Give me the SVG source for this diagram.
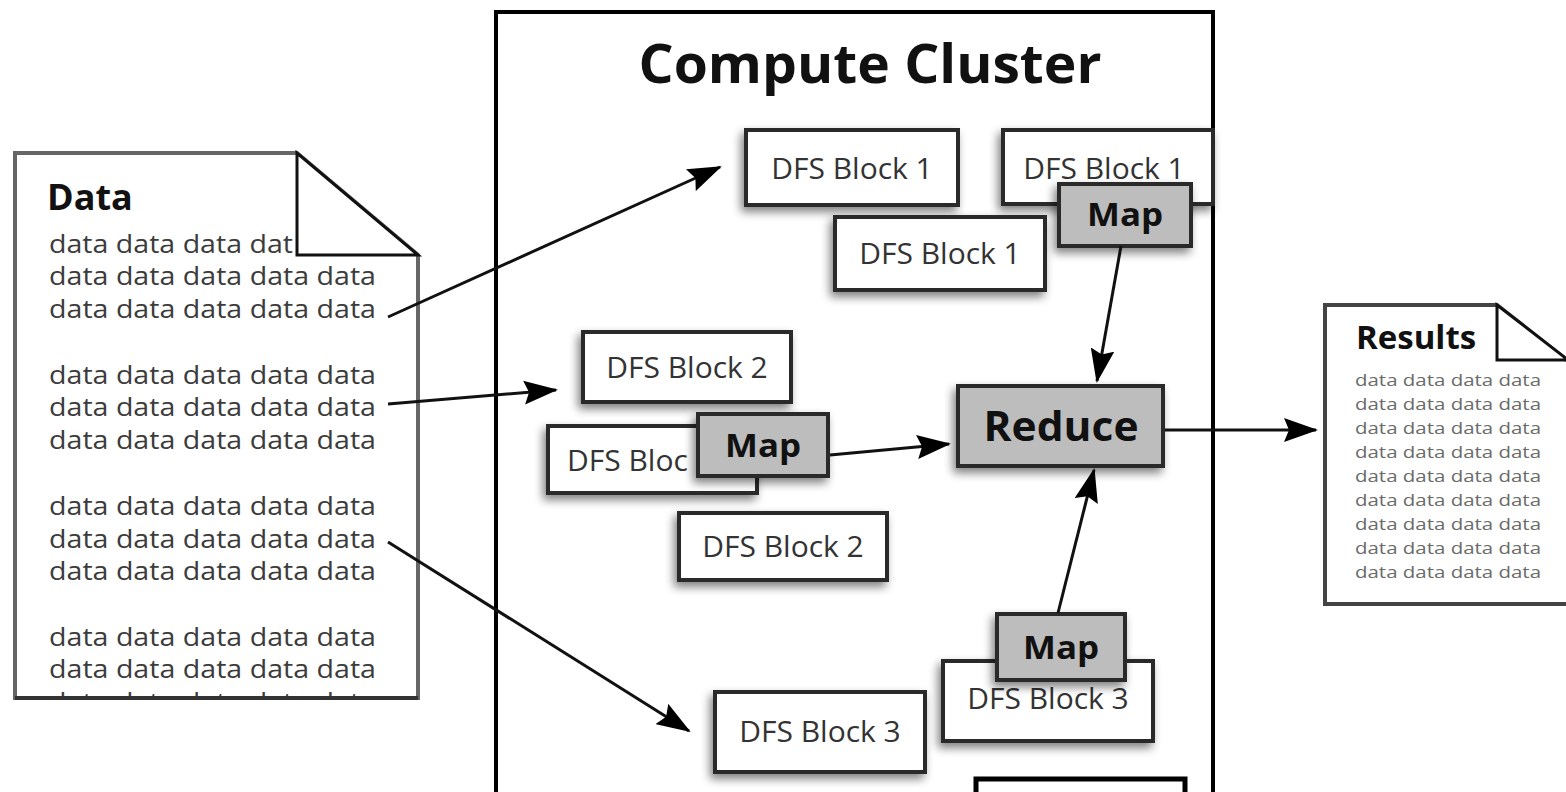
<svg xmlns="http://www.w3.org/2000/svg" width="1566" height="792" viewBox="0 0 1566 792">
<defs>
<style>
.bx{fill:#fff;stroke:#2a2a2a;stroke-width:4}
.mp{fill:#bdbdbd;stroke:#2a2a2a;stroke-width:4}
.lbl{font-family:"Open Sans","Liberation Sans",sans-serif;font-size:30px;fill:#333;text-anchor:middle}
.lbls{font-family:"Open Sans","Liberation Sans",sans-serif;font-size:30px;fill:#333;text-anchor:start}
.bold{font-family:"Open Sans","Liberation Sans",sans-serif;font-weight:bold;fill:#111}
.dt{font-family:"Open Sans","Liberation Sans",sans-serif;font-size:25px;fill:#3c3c3c}
.rt{font-family:"Open Sans","Liberation Sans",sans-serif;font-size:17px;fill:#6a6a6a}
.conn line{stroke:#111;stroke-width:3;marker-end:url(#ah)}
</style>
<marker id="ah" viewBox="0 0 34 24" refX="32" refY="12" markerWidth="34" markerHeight="24" markerUnits="userSpaceOnUse" orient="auto">
<path d="M0,0 L34,12 L0,24 L5,12 z" fill="#000"/>
</marker>
<filter id="sh" x="-25%" y="-40%" width="150%" height="190%">
<feGaussianBlur in="SourceAlpha" stdDeviation="5"/>
<feOffset dx="-3" dy="5" result="o"/>
<feComponentTransfer><feFuncA type="linear" slope="0.5"/></feComponentTransfer>
<feMerge><feMergeNode/><feMergeNode in="SourceGraphic"/></feMerge>
</filter>
<clipPath id="dclip"><rect x="17" y="155" width="399" height="541"/></clipPath>
</defs>
<rect width="1566" height="792" fill="#fff"/>

<g id="cluster">
<rect x="496" y="12" width="717" height="800" fill="#fff" stroke="#000" stroke-width="4"/>
<text class="bold" x="870" y="83" font-size="53" text-anchor="middle" textLength="463" lengthAdjust="spacingAndGlyphs">Compute Cluster</text>
</g>

<g id="data-doc">
<path d="M15,153 L297,153 L418,255 L418,698 L15,698 Z" fill="#fff" stroke="#666" stroke-width="4"/>
<text class="bold" x="47" y="210" font-size="36">Data</text>
<g clip-path="url(#dclip)">
<text class="dt" x="49" y="253" textLength="244" lengthAdjust="spacingAndGlyphs">data data data dat</text>
<text class="dt" x="49" y="285" textLength="327" lengthAdjust="spacingAndGlyphs">data data data data data</text>
<text class="dt" x="49" y="318" textLength="327" lengthAdjust="spacingAndGlyphs">data data data data data</text>
<text class="dt" x="49" y="384" textLength="327" lengthAdjust="spacingAndGlyphs">data data data data data</text>
<text class="dt" x="49" y="416" textLength="327" lengthAdjust="spacingAndGlyphs">data data data data data</text>
<text class="dt" x="49" y="449" textLength="327" lengthAdjust="spacingAndGlyphs">data data data data data</text>
<text class="dt" x="49" y="515" textLength="327" lengthAdjust="spacingAndGlyphs">data data data data data</text>
<text class="dt" x="49" y="548" textLength="327" lengthAdjust="spacingAndGlyphs">data data data data data</text>
<text class="dt" x="49" y="580" textLength="327" lengthAdjust="spacingAndGlyphs">data data data data data</text>
<text class="dt" x="49" y="646" textLength="327" lengthAdjust="spacingAndGlyphs">data data data data data</text>
<text class="dt" x="49" y="678" textLength="327" lengthAdjust="spacingAndGlyphs">data data data data data</text>
<text class="dt" x="49" y="711" textLength="327" lengthAdjust="spacingAndGlyphs">data data data data data</text>
</g>
<path d="M297,153 L297,255 L418,255 L297,153 Z" fill="#fff" stroke="#111" stroke-width="3"/>
<line x1="15" y1="698" x2="418" y2="698" stroke="#333" stroke-width="4"/>
</g>

<g id="results-doc">
<path d="M1325,305 L1497,305 L1568,361 L1568,604 L1325,604 Z" fill="#fff" stroke="#444" stroke-width="4"/>
<text class="bold" x="1356" y="349" font-size="33">Results</text>
<text class="rt" x="1355" y="386" textLength="186" lengthAdjust="spacingAndGlyphs">data data data data</text>
<text class="rt" x="1355" y="410" textLength="186" lengthAdjust="spacingAndGlyphs">data data data data</text>
<text class="rt" x="1355" y="434" textLength="186" lengthAdjust="spacingAndGlyphs">data data data data</text>
<text class="rt" x="1355" y="458" textLength="186" lengthAdjust="spacingAndGlyphs">data data data data</text>
<text class="rt" x="1355" y="482" textLength="186" lengthAdjust="spacingAndGlyphs">data data data data</text>
<text class="rt" x="1355" y="506" textLength="186" lengthAdjust="spacingAndGlyphs">data data data data</text>
<text class="rt" x="1355" y="530" textLength="186" lengthAdjust="spacingAndGlyphs">data data data data</text>
<text class="rt" x="1355" y="554" textLength="186" lengthAdjust="spacingAndGlyphs">data data data data</text>
<text class="rt" x="1355" y="578" textLength="186" lengthAdjust="spacingAndGlyphs">data data data data</text>
<path d="M1497,305 L1497,360 L1568,360 Z" fill="#fff" stroke="#111" stroke-width="3"/>
</g>

<g id="dfs1a"><rect class="bx" x="746" y="130" width="212" height="75" filter="url(#sh)"/><text class="lbl" x="852" y="179">DFS Block 1</text></g>
<g id="dfs1b"><rect class="bx" x="1003" y="130" width="210" height="74" filter="url(#sh)"/><text class="lbl" x="1104" y="179">DFS Block 1</text></g>
<g id="dfs1c"><rect class="bx" x="835" y="217" width="210" height="73" filter="url(#sh)"/><text class="lbl" x="940" y="264">DFS Block 1</text></g>
<g id="map1"><rect class="mp" x="1059" y="184" width="132" height="62" filter="url(#sh)"/><text class="bold" x="1125" y="226" font-size="32" text-anchor="middle" textLength="76" lengthAdjust="spacingAndGlyphs">Map</text></g>

<g id="dfs2a"><rect class="bx" x="583" y="332" width="208" height="70" filter="url(#sh)"/><text class="lbl" x="687" y="378">DFS Block 2</text></g>
<g id="dfs2b"><rect class="bx" x="548" y="426" width="209" height="67" filter="url(#sh)"/><text class="lbls" x="567" y="471">DFS Bloc</text></g>
<g id="map2"><rect class="mp" x="698" y="414" width="130" height="62" filter="url(#sh)"/><text class="bold" x="763" y="457" font-size="32" text-anchor="middle" textLength="76" lengthAdjust="spacingAndGlyphs">Map</text></g>
<g id="dfs2c"><rect class="bx" x="679" y="513" width="208" height="67" filter="url(#sh)"/><text class="lbl" x="783" y="557">DFS Block 2</text></g>

<g id="reduce"><rect class="mp" x="958" y="386" width="205" height="80" filter="url(#sh)"/><text class="bold" x="1061" y="441" font-size="42" text-anchor="middle" textLength="155" lengthAdjust="spacingAndGlyphs">Reduce</text></g>

<g id="dfs3b"><rect class="bx" x="715" y="692" width="210" height="80" filter="url(#sh)"/><text class="lbl" x="820" y="742">DFS Block 3</text></g>
<g id="dfs3a"><rect class="bx" x="943" y="661" width="210" height="80" filter="url(#sh)"/><text class="lbl" x="1048" y="709">DFS Block 3</text></g>
<g id="map3"><rect class="mp" x="997" y="614" width="128" height="66" filter="url(#sh)"/><text class="bold" x="1061" y="659" font-size="32" text-anchor="middle" textLength="76" lengthAdjust="spacingAndGlyphs">Map</text></g>

<g id="partial-box"><rect x="976" y="779" width="209" height="40" fill="#fff" stroke="#000" stroke-width="5"/></g>

<g id="connectors" class="conn">
<line x1="388" y1="317" x2="720" y2="167"/>
<line x1="388" y1="404" x2="556" y2="390"/>
<line x1="388" y1="542" x2="689" y2="731"/>
<line x1="1121" y1="246" x2="1097" y2="381"/>
<line x1="830" y1="455" x2="949" y2="444"/>
<line x1="1058" y1="613" x2="1094" y2="470"/>
<line x1="1165" y1="430" x2="1316" y2="430"/>
</g>
</svg>
